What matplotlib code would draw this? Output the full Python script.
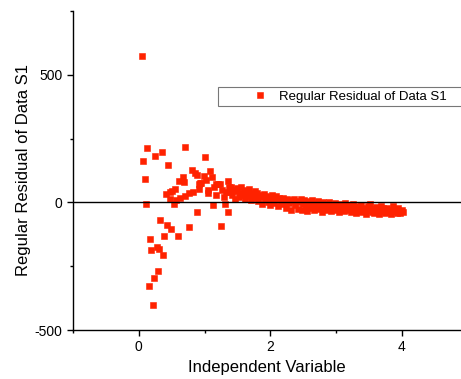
import matplotlib
matplotlib.use("Agg")
import matplotlib.pyplot as plt
from matplotlib.ticker import MultipleLocator
from matplotlib.patches import Rectangle

plt.rcParams['font.family'] = ['Liberation Sans', 'DejaVu Sans']
plt.rcParams['axes.unicode_minus'] = False

# scattered early points (x, residual)
x_early = [0.05, 0.07, 0.09, 0.11, 0.13, 0.15, 0.17, 0.19, 0.21, 0.23,
           0.25, 0.27, 0.29, 0.31, 0.33, 0.35, 0.37, 0.39, 0.41, 0.43,
           0.45, 0.47, 0.47, 0.49, 0.51, 0.53, 0.55, 0.57, 0.59, 0.61,
           0.63, 0.67, 0.69, 0.71, 0.71, 0.76, 0.77, 0.81, 0.83, 0.85,
           0.88, 0.89, 0.91, 0.91, 0.93, 0.95, 0.99, 1.01, 1.03, 1.05,
           1.06, 1.09, 1.11, 1.13, 1.15, 1.17, 1.18, 1.21, 1.24, 1.25,
           1.27, 1.29, 1.31, 1.33, 1.35, 1.36, 1.37]
y_early = [574, 162, 90, -8, 214, -327, -143, -186, -401, -298,
           180, -175, -269, -181, -69, 197, -205, -132, 34, -89,
           146, 39, 12, -106, 44, -8, 52, 9, -132, 83,
           17, 100, 81, 217, 25, -98, 35, 127, 40, 114,
           107, -38, 71, 53, 75, 77, 103, 176, 87, 35,
           48, 124, 100, -11, 61, 74, 29, 74, 72, -93,
           50, 20, -5, 40, -37, 84, 60]

# dense tail, x from 1.38 to 4.02 in steps of 0.02
x_tail = [round(1.38 + 0.02 * i, 2) for i in range(133)]
y_tail = [40, 62, 28, 50, 15, 45, 58, 22, 35, 60,
          30, 48, 12, 40, 25, 52, 8, 35, 20, 44,
          18, 38, 5, 30, 22, -6, 34, 12, 26, 2,
          20, -10, 28, 8, -2, 24, 14, -14, 18, 6,
          -8, 16, 2, -20, 12, -4, 10, -28, 4, 14,
          -12, 6, -24, 0, 12, -30, -6, 8, -16, -34,
          4, -10, -22, 10, -30, -2, -18, 6, -26, -12,
          -36, 0, -14, -28, -6, -20, 2, -32, -10, -24,
          -4, -30, -16, -38, -8, -22, -12, -34, -2, -20,
          -28, -10, -36, -18, -6, -26, -40, -14, -22, -32,
          -12, -38, -20, -28, -44, -16, -30, -8, -36, -24,
          -42, -18, -32, -26, -46, -14, -34, -22, -40, -28,
          -20, -38, -30, -44, -16, -34, -26, -40, -22, -36,
          -42, -30, -38]

x_vals = x_early + x_tail
y_vals = y_early + y_tail

series_label = "Regular Residual of Data S1"
red = '#FF2200'

fig = plt.figure(figsize=(4.61, 3.79), dpi=100)
ax = fig.add_axes([73 / 461, 49 / 379, 388 / 461, 319 / 379])

ax.plot(x_vals, y_vals, linestyle='none', marker='s', markersize=4.8,
        color=red, markeredgecolor=red, markeredgewidth=0.4, label=series_label, zorder=2)
ax.axhline(0, color='black', lw=1, zorder=3)

ax.set_xlim(-1, 4.9)
ax.set_ylim(-500, 750)
ax.xaxis.set_major_locator(MultipleLocator(2))
ax.xaxis.set_minor_locator(MultipleLocator(1))
ax.yaxis.set_major_locator(MultipleLocator(500))
ax.yaxis.set_minor_locator(MultipleLocator(250))
ax.tick_params(which='major', direction='out', length=4, width=1, labelsize=10)
ax.tick_params(which='minor', direction='out', length=2.5, width=1)
ax.spines['top'].set_visible(False)
ax.spines['right'].set_visible(False)
ax.spines['left'].set_linewidth(1)
ax.spines['bottom'].set_linewidth(1)

ax.set_xlabel("Independent Variable", fontsize=12, labelpad=4)
ax.set_ylabel("Regular Residual of Data S1", fontsize=12, labelpad=3)

# legend box drawn by hand, legend itself without frame
ax.add_patch(Rectangle((0.374, 0.702), 0.64, 0.06, transform=ax.transAxes,
                       facecolor='white', edgecolor='#777777', lw=0.8,
                       clip_on=False, zorder=4))
ax.legend(loc='center left', bbox_to_anchor=(0.43, 0.732), frameon=False,
          borderpad=0, handlelength=2, handletextpad=0.45, numpoints=1,
          fontsize=9.5).set_zorder(5)

fig.savefig("out.png", dpi=100)
